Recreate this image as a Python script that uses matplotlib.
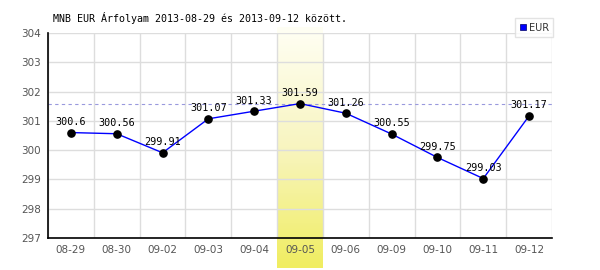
import matplotlib
matplotlib.use("Agg")
import matplotlib.pyplot as plt
from matplotlib.lines import Line2D
from matplotlib.colors import LinearSegmentedColormap
import matplotlib.transforms as mtransforms
import numpy as np

# Data
dates = ["08-29", "08-30", "09-02", "09-03", "09-04", "09-05",
         "09-06", "09-09", "09-10", "09-11", "09-12"]
rates = [300.6, 300.56, 299.91, 301.07, 301.33, 301.59,
         301.26, 300.55, 299.75, 299.03, 301.17]
labels = ["300.6", "300.56", "299.91", "301.07", "301.33", "301.59",
          "301.26", "300.55", "299.75", "299.03", "301.17"]
title = "MNB EUR Árfolyam 2013-08-29 és 2013-09-12 között."
series_name = "EUR"

mono = "DejaVu Sans Mono"

fig = plt.figure(figsize=(6, 2.7), dpi=100)
ax = fig.add_axes([48 / 600, 1 - 238 / 270, 504 / 600, 205 / 270])

x = np.arange(len(dates))

# highlight band at the max value
imax = int(np.argmax(rates))
cmap = LinearSegmentedColormap.from_list("band", ["#fffff4", "#f8f5c0", "#f0ed60"])
grad = np.linspace(0, 1, 256).reshape(-1, 1)
trans = mtransforms.blended_transform_factory(ax.transData, ax.transAxes)
ax.imshow(grad, cmap=cmap, aspect="auto", origin="upper",
          extent=(imax - 0.5, imax + 0.5, -30 / 205, 1 + 6 / 205),
          transform=trans, clip_on=False, zorder=0)
ax.set_xlim(-0.5, len(dates) - 0.5)
ax.set_ylim(297, 304)

# grid
for b in np.arange(-0.5, len(dates), 1.0):
    ax.axvline(b, color="#dddddd", lw=1, zorder=1)
for yv in range(297, 305):
    ax.axhline(yv, color="#dddddd", lw=1, zorder=1)

ax.axhline(max(rates), color="#9999dd", lw=0.8, ls=(0, (3, 3)), zorder=2)

ax.plot(x, rates, color="#0000ff", lw=1.0, zorder=3)
ax.plot(x, rates, "o", color="black", ms=5.2, zorder=4)
for xi, yi, lab in zip(x, rates, labels):
    ax.annotate(lab, (xi, yi), xytext=(0, 4), textcoords="offset points",
                ha="center", va="bottom", fontsize=7.3, family=mono, zorder=5)

for s in ["top", "right"]:
    ax.spines[s].set_visible(False)
for s in ["left", "bottom"]:
    ax.spines[s].set_color("black")
    ax.spines[s].set_linewidth(1.2)
    ax.spines[s].set_zorder(6)

ax.set_xticks(x)
ax.set_xticklabels(dates)
ax.set_yticks(range(297, 305))
ax.tick_params(length=0, labelsize=7.5, colors="#555555", pad=5)

fig.text(53 / 600, 1 - 18 / 270, title, fontsize=7.2, family=mono, va="center", ha="left")

handle = Line2D([], [], marker="s", color="#0000ff", ls="none", ms=5,
                markeredgecolor="#000066", markeredgewidth=0.5)
leg = fig.legend([handle], [series_name], loc="lower right",
                 bbox_to_anchor=(553 / 600, 1 - 37 / 270),
                 fontsize=7, frameon=True, fancybox=False,
                 handlelength=0.6, handletextpad=0.3, borderpad=0.45,
                 borderaxespad=0)
leg.get_frame().set_edgecolor("#dddddd")
leg.get_frame().set_linewidth(1)
for t in leg.get_texts():
    t.set_color("#333333")

fig.savefig("out.png", dpi=100)
